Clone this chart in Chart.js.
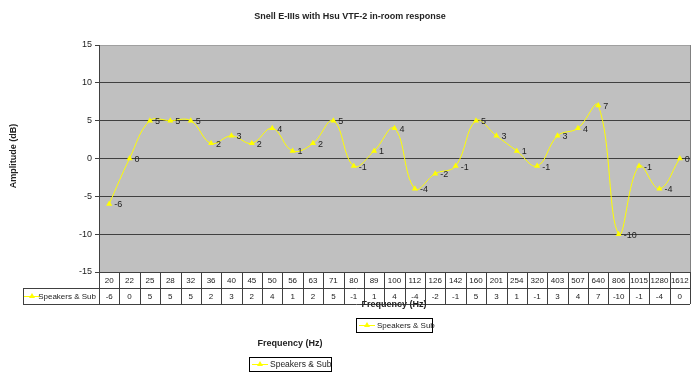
<!DOCTYPE html>
<html>
<head>
<meta charset="utf-8">
<script src="https://cdn.jsdelivr.net/npm/chart.js@4/dist/chart.umd.min.js"></script>
<style>
  html, body { margin: 0; padding: 0; background: #fff; }
  #wrap { width: 700px; height: 377px; }
</style>
</head>
<body>
<div id="wrap"><canvas id="chart"></canvas></div>
<script>
// DATA
const frequencies = ["20", "22", "25", "28", "32", "36", "40", "45", "50", "56", "63", "71", "80", "89",
  "100", "112", "126", "142", "160", "201", "254", "320", "403", "507", "640", "806", "1015", "1280", "1612"];
const amplitudes = [-6, 0, 5, 5, 5, 2, 3, 2, 4, 1, 2, 5, -1, 1, 4, -4, -2, -1, 5, 3, 1, -1, 3, 4, 7, -10, -1, -4, 0];
const yTicks = [-15, -10, -5, 0, 5, 10, 15];
const seriesName = "Speakers & Sub";
const chartTitle = "Snell E-IIIs with Hsu VTF-2 in-room response";
const xTitle = "Frequency (Hz)";
const yTitle = "Amplitude (dB)";

const FONT = "Liberation Sans, Arial, sans-serif";
const YELLOW = "#ffff00";
const TEXT = "#222";

function drawKey(c, x, y) {
  c.save();
  c.strokeStyle = YELLOW;
  c.lineWidth = 1;
  c.beginPath();
  c.moveTo(x, y + 0.5);
  c.lineTo(x + 16, y + 0.5);
  c.stroke();
  c.fillStyle = YELLOW;
  c.beginPath();
  c.moveTo(x + 8, y - 3);
  c.lineTo(x + 11, y + 2);
  c.lineTo(x + 5, y + 2);
  c.closePath();
  c.fill();
  c.restore();
}

// plot background
const plotBg = {
  id: "plotBg",
  beforeDraw(chart) {
    const { ctx, chartArea: a } = chart;
    ctx.save();
    ctx.fillStyle = "#c0c0c0";
    ctx.fillRect(a.left, a.top, a.right - a.left, a.bottom - a.top);
    ctx.restore();
  },
};

// point labels, data table, titles, legends
const extras = {
  id: "extras",
  afterDatasetsDraw(chart) {
    const { ctx } = chart;
    const meta = chart.getDatasetMeta(0);
    ctx.save();
    ctx.font = "9px " + FONT;
    ctx.fillStyle = TEXT;
    ctx.textAlign = "left";
    ctx.textBaseline = "middle";
    meta.data.forEach((pt, i) => {
      ctx.fillText(String(amplitudes[i]), pt.x + 5, pt.y + 1);
    });
    ctx.restore();
  },
  afterDraw(chart) {
    const { ctx, chartArea: a } = chart;
    const xs = chart.scales.x;
    const n = frequencies.length;
    const w = (a.right - a.left) / n;
    ctx.save();

    // plot border (right)
    ctx.strokeStyle = "#808080";
    ctx.lineWidth = 1;
    ctx.beginPath();
    ctx.moveTo(a.right + 0.5, a.top);
    ctx.lineTo(a.right + 0.5, a.bottom);
    ctx.stroke();

    // data table
    const r1 = a.bottom, r2 = a.bottom + 16, r3 = a.bottom + 32, tl = 23;
    ctx.strokeStyle = "#404040";
    ctx.beginPath();
    ctx.moveTo(tl, r2 + 0.5); ctx.lineTo(a.right, r2 + 0.5);
    ctx.moveTo(tl, r3 + 0.5); ctx.lineTo(a.right, r3 + 0.5);
    ctx.moveTo(tl + 0.5, r2); ctx.lineTo(tl + 0.5, r3);
    for (let i = 0; i <= n; i++) {
      const x = Math.round(a.left + i * w) + 0.5;
      ctx.moveTo(x, r1); ctx.lineTo(x, r3);
    }
    ctx.stroke();

    ctx.font = "8px " + FONT;
    ctx.fillStyle = TEXT;
    ctx.textAlign = "center";
    ctx.textBaseline = "middle";
    frequencies.forEach((f, i) => {
      const x = xs.getPixelForValue(i);
      ctx.fillText(f, x, r1 + 9);
      ctx.fillText(String(amplitudes[i]), x, r2 + 9);
    });
    drawKey(ctx, 24, r2 + 8);
    ctx.textAlign = "right";
    ctx.fillText(seriesName, 96, r2 + 9);

    // titles
    ctx.font = "bold 9px " + FONT;
    ctx.textAlign = "center";
    ctx.fillText(chartTitle, 350, 17);
    ctx.fillText(xTitle, 394, 305);
    ctx.fillText(xTitle, 290, 344);
    ctx.save();
    ctx.translate(14, 156);
    ctx.rotate(-Math.PI / 2);
    ctx.fillText(yTitle, 0, 0);
    ctx.restore();

    // legends
    [[356, 318, 76], [249, 357, 82]].forEach(([x, y, bw]) => {
      ctx.fillStyle = "#fff";
      ctx.fillRect(x, y, bw, 14);
      ctx.strokeStyle = "#000";
      ctx.strokeRect(x + 0.5, y + 0.5, bw, 14);
      drawKey(ctx, x + 3, y + 7);
      ctx.fillStyle = TEXT;
      ctx.font = (bw > 80 ? "8.5px " : "8px ") + FONT;
      ctx.textAlign = "left";
      ctx.fillText(seriesName, x + 21, y + 8);
    });
    ctx.restore();
  },
};

new Chart(document.getElementById("chart"), {
  type: "line",
  data: {
    labels: frequencies,
    datasets: [{
      label: seriesName,
      data: amplitudes,
      borderColor: YELLOW,
      backgroundColor: YELLOW,
      borderWidth: 1,
      pointStyle: "triangle",
      pointRadius: 3.5,
      pointBorderWidth: 0,
      tension: 0.4,
    }],
  },
  options: {
    responsive: true,
    maintainAspectRatio: false,
    animation: false,
    layout: { padding: { top: 45, right: 10, left: 0, bottom: 0 } },
    plugins: {
      legend: { display: false },
      title: { display: false },
      tooltip: { enabled: false },
    },
    scales: {
      x: {
        type: "category",
        offset: true,
        ticks: { display: false },
        grid: { display: false },
        border: { display: false },
        afterFit(scale) { scale.height = 105; },
      },
      y: {
        min: -15,
        max: 15,
        afterBuildTicks(scale) { scale.ticks = yTicks.map(v => ({ value: v })); },
        ticks: {
          font: { family: FONT, size: 9 },
          color: TEXT,
          padding: 3,
        },
        grid: {
          color: (c) => (c.tick && c.tick.value === 15 ? "#a0a0a0" : "#404040"),
          tickColor: "#404040",
          tickLength: 4,
          lineWidth: 1,
        },
        border: { color: "#404040", width: 1 },
        afterFit(scale) { scale.width = 99; },
      },
    },
  },
  plugins: [plotBg, extras],
});
</script>
</body>
</html>
